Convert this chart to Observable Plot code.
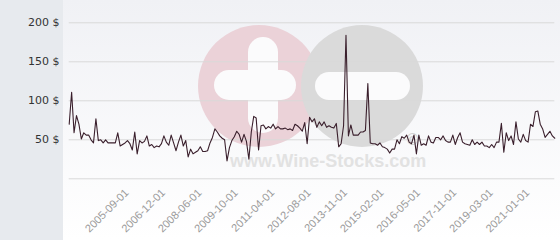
<!DOCTYPE html>
<html><head><meta charset="utf-8">
<script src="https://cdn.jsdelivr.net/npm/d3@7"></script>
<script src="https://cdn.jsdelivr.net/npm/@observablehq/plot@0.6"></script>
<style>
html,body{margin:0;padding:0;background:#fff;}
#chart{width:560px;height:240px;overflow:hidden;}
</style></head><body><div id="chart"></div>
<script>
// Price per bottle over time (USD), one value per auction date, left to right
const prices = [
  70, 111, 59, 81, 70, 51, 59, 56, 56, 50,
  46, 77, 49, 50, 46, 50, 46, 46, 46, 46,
  59, 42, 44, 46, 49, 45, 37, 60, 32, 49,
  46, 48, 55, 42, 44, 40, 42, 41, 45, 55,
  47, 43, 56, 46, 36, 47, 56, 42, 49, 28,
  38, 32, 34, 36, 41, 35, 35, 36, 46, 53,
  64, 60, 55, 52, 50, 23, 40, 49, 54, 61,
  57, 47, 57, 48, 25, 60, 80, 78, 37, 68,
  69, 64, 67, 65, 70, 64, 67, 64, 64, 65,
  63, 64, 62, 70, 68, 65, 61, 72, 45, 79,
  73, 77, 66, 73, 68, 73, 66, 68, 66, 65,
  71, 41, 45, 68, 184, 55, 69, 56, 56, 56,
  60, 60, 62, 122, 46, 45, 45, 43, 46, 41,
  40, 38, 33, 38, 38, 50, 45, 54, 52, 56,
  47, 45, 56, 32, 56, 43, 45, 43, 55, 47,
  46, 53, 53, 50, 55, 49, 47, 47, 56, 44,
  53, 59, 47, 45, 44, 43, 50, 44, 47, 44,
  47, 42, 42, 40, 44, 40, 47, 47, 71, 34,
  59, 49, 55, 44, 73, 51, 47, 57, 49, 47,
  70, 67, 86, 87, 70, 64, 53, 57, 61, 55,
  52
];
// dated category labels shown on the x axis and the point each belongs to
const tickLabels = ["2005-09-01","2006-12-01","2008-06-01","2009-10-01","2011-04-01","2012-08-01",
                    "2013-11-01","2015-02-01","2016-05-01","2017-11-01","2019-03-01","2021-01-01"];
const tickPoints = [25, 40, 55, 70, 85, 100, 115, 130, 145, 160, 175, 190];
const yTicks = [50, 100, 150, 200];
const gridValues = [0, 50, 100, 150, 200];
const watermarkText = "www.Wine-Stocks.com";

const data = prices.map((v, i) => ({i, v}));

function backdrop(index, scales, values, dims) {
  const g = d3.create("svg:g").attr("text-anchor", "start");
  const defs = g.append("defs");
  const grad = defs.append("linearGradient").attr("id", "plotbg")
    .attr("x1", 0).attr("y1", 0).attr("x2", 0).attr("y2", 1);
  grad.append("stop").attr("offset", "0%").attr("stop-color", "#f0f1f5");
  grad.append("stop").attr("offset", "100%").attr("stop-color", "#ffffff");
  g.append("rect").attr("x", 0).attr("y", 0).attr("width", 63).attr("height", dims.height).attr("fill", "#e7eaee");
  g.append("rect").attr("x", 63).attr("y", 0).attr("width", dims.width - 63).attr("height", dims.height).attr("fill", "url(#plotbg)");
  // watermark logo
  const w = g.append("g");
  w.append("circle").attr("cx", 259).attr("cy", 86).attr("r", 61).attr("fill", "#ebd2d8");
  w.append("rect").attr("x", 214).attr("y", 70).attr("width", 82).attr("height", 30).attr("rx", 15).attr("fill", "#fbfbfc");
  w.append("rect").attr("x", 248).attr("y", 37).attr("width", 30).attr("height", 96).attr("rx", 15).attr("fill", "#fbfbfc");
  w.append("circle").attr("cx", 362).attr("cy", 86).attr("r", 61).attr("fill", "#dadada");
  w.append("rect").attr("x", 315).attr("y", 72).attr("width", 95).attr("height", 28).attr("rx", 14).attr("fill", "#fbfbfc");
  w.append("text").attr("x", 230).attr("y", 167).attr("text-anchor", "start").attr("font-family", "Liberation Sans")
    .attr("font-weight", "bold").attr("font-size", 18).attr("fill", "#e2e2e2").text(watermarkText);
  w.append("text").attr("x", 405).attr("y", 145).attr("text-anchor", "start").attr("font-family", "DejaVu Sans")
    .attr("font-size", 15).attr("fill", "#d0d0d0").text("©");
  return g.node();
}

const chart = Plot.plot({
  width: 560,
  height: 240,
  marginLeft: 68.7,
  marginRight: 5.7,
  marginTop: 22.3,
  marginBottom: 61.7,
  style: {fontFamily: "DejaVu Sans", fontSize: "11px", background: "transparent", overflow: "visible"},
  x: {type: "linear", domain: [0, prices.length - 1], label: null},
  y: {domain: [0, 200], label: null},
  marks: [
    backdrop,
    Plot.gridY(gridValues, {stroke: "#d9d9d9", strokeOpacity: 1, strokeWidth: 1}),
    Plot.line(data, {x: "i", y: "v", stroke: "#3a1f2c", strokeWidth: 1.1, curve: "linear"}),
    Plot.axisY(yTicks, {label: null, tickSize: 0, tickPadding: 9.7, tickFormat: d => `${d} $`, fill: "#333", fontSize: 11, fontFamily: "DejaVu Sans"}),
    Plot.axisX(tickPoints, {label: null, tickSize: 0, tickPadding: 12, dx: -3, tickRotate: -45, textAnchor: "end",
      tickFormat: d => tickLabels[tickPoints.indexOf(d)], fill: "#9a9a9a", fontSize: 11, fontFamily: "Liberation Sans"})
  ]
});
document.getElementById("chart").appendChild(chart);
</script></body></html>
